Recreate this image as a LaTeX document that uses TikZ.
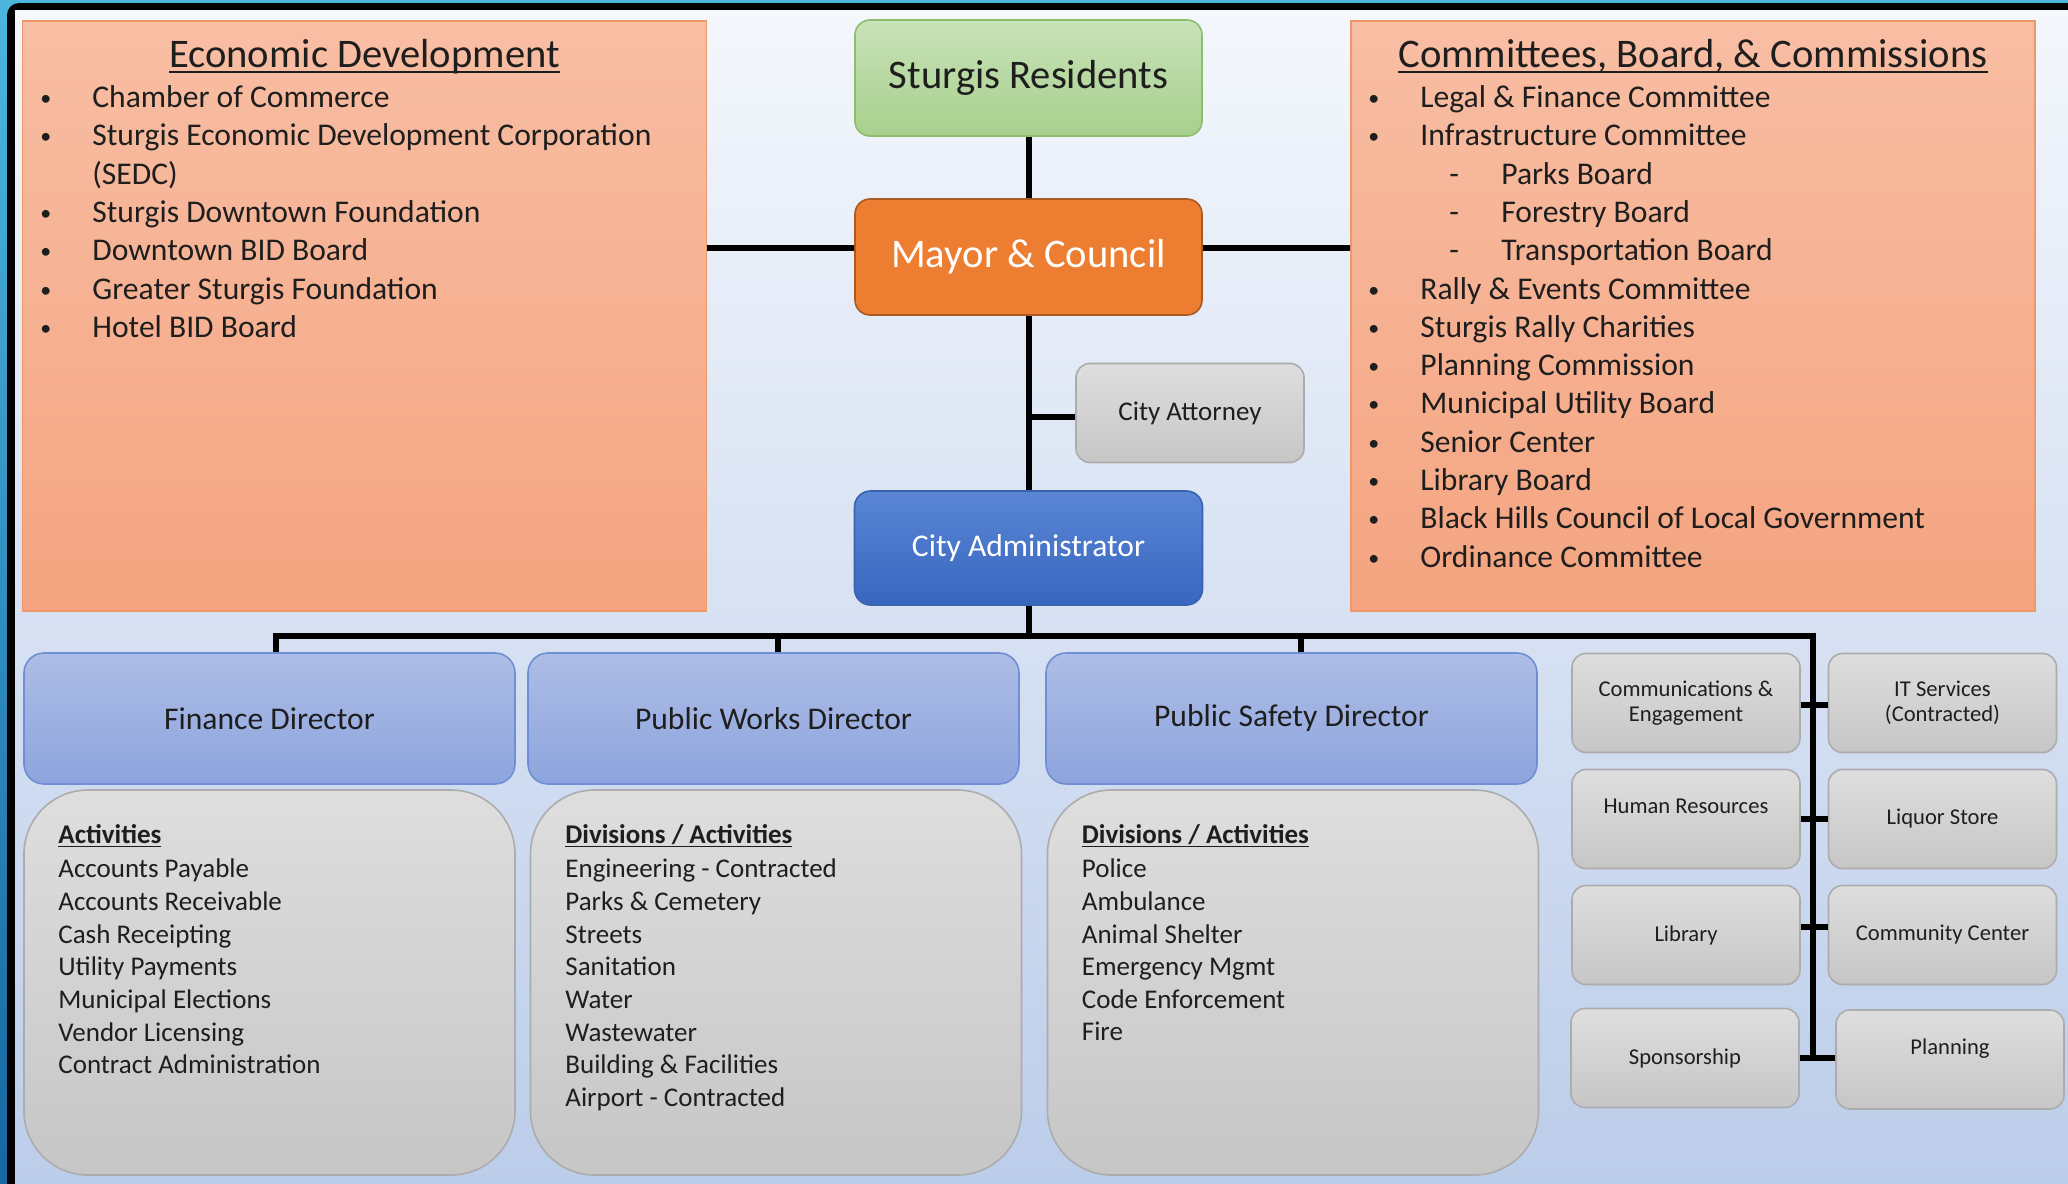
\documentclass[tikz,border=0pt]{standalone}
\usepackage{fontspec}
\setmainfont{Carlito}

\newlength{\ulwd}
\newcommand{\undl}[1]{\settowidth{\ulwd}{#1}\rlap{\rule[-0.15em]{\ulwd}{0.05em}}#1}
\newcommand{\bul}{\makebox[26pt][l]{\raisebox{1pt}{\fontsize{11}{11}\selectfont •}}}

\definecolor{framecyan}{HTML}{4CB6DE}
\definecolor{frameblue}{HTML}{1767A0}
\definecolor{bgtop}{HTML}{F4F7FC}
\definecolor{bgmid}{HTML}{C9D7EE}
\definecolor{bgbot}{HTML}{BCCDEA}
\definecolor{salmontop}{HTML}{F8BEA4}
\definecolor{salmonbot}{HTML}{F4A480}
\definecolor{salmonline}{HTML}{EE9868}
\definecolor{greentop}{HTML}{C8E2B8}
\definecolor{greenbot}{HTML}{A8D08D}
\definecolor{greenline}{HTML}{8DBE6E}
\definecolor{mayorfill}{HTML}{ED7D31}
\definecolor{mayorline}{HTML}{A85A22}
\definecolor{graytop}{HTML}{DEDEDE}
\definecolor{graybot}{HTML}{C6C6C6}
\definecolor{grayline}{HTML}{ACACAC}
\definecolor{admintop}{HTML}{5A86D5}
\definecolor{adminbot}{HTML}{3766BF}
\definecolor{adminline}{HTML}{3A63AE}
\definecolor{dirtop}{HTML}{ADBDE6}
\definecolor{dirbot}{HTML}{8DA4DD}
\definecolor{dirline}{HTML}{6F8ED3}
\definecolor{txt}{HTML}{1E1E1E}

\begin{document}
\begin{tikzpicture}[x=0.5pt, y=-0.5pt,
  basebox/.style={inner sep=0pt, align=center, line width=0.8pt, text=txt},
  panel/.style={basebox, draw=salmonline, top color=salmontop, bottom color=salmonbot, minimum width=342pt, minimum height=295pt},
  greybox/.style={basebox, draw=grayline, top color=graytop, bottom color=graybot, rounded corners=7pt, minimum width=114pt, minimum height=49.5pt, font=\fontsize{11.3}{12.5}\selectfont},
  dirbox/.style={basebox, draw=dirline, top color=dirtop, bottom color=dirbot, rounded corners=10pt, minimum width=245.5pt, minimum height=65.5pt, font=\fontsize{15.8}{19}\selectfont},
  actbox/.style={basebox, draw=grayline, top color=graytop, bottom color=graybot, rounded corners=32pt, minimum width=245.5pt, minimum height=192.5pt},
  acttext/.style={anchor=north west, inner sep=0pt, align=left, text=txt, font=\fontsize{13.5}{16.3}\selectfont},
  paneltitle/.style={anchor=base, inner sep=0pt, text=txt, font=\fontsize{20.3}{24}\selectfont},
  listtext/.style={anchor=base west, inner sep=0pt, text=txt, font=\fontsize{15.8}{19}\selectfont},
  conn/.style={line width=3pt, black}]

\useasboundingbox (0,0) rectangle (2068,1184);

\clip (0,0) rectangle (2068,1184);

\shade[top color=framecyan, bottom color=frameblue] (0,0) rectangle (2068,1184);

\fill[black, rounded corners=6pt] (7,3) rectangle (2300,1400);

\shade[top color=bgtop, middle color=bgmid, bottom color=bgbot] (15,10) rectangle (2068,1184);

\node[panel] (ed) at (364.5,316) {};

\node[panel] (cbc) at (1693,316) {};

\node[basebox, draw=greenline, top color=greentop, bottom color=greenbot, rounded corners=7.5pt, minimum width=173.5pt, minimum height=58pt, font=\fontsize{20.3}{24}\selectfont] (res) at (1028.5,78) {Sturgis Residents};

\node[basebox, draw=mayorline, fill=mayorfill, rounded corners=7.5pt, minimum width=173.5pt, minimum height=58pt, text=white, font=\fontsize{20.3}{24}\selectfont] (mayor) at (1028.5,257) {Mayor \& Council};

\node[greybox, font=\fontsize{13.5}{16}\selectfont] (attorney) at (1190,413) {City Attorney};

\node[basebox, draw=adminline, top color=admintop, bottom color=adminbot, rounded corners=8pt, minimum width=174pt, minimum height=57pt, text=white, font=\fontsize{15.8}{19}\selectfont] (admin) at (1028.5,548) {City Administrator};

\node[dirbox] (fin) at (269.5,718.5) {Finance Director};

\node[dirbox] (pw) at (773.5,718.5) {Public Works Director};

\node[dirbox] (ps) at (1291.5,718.5) {Public Safety Director};

\node[actbox] (finact) at (269.5,982.5) {};

\node[actbox] (pwact) at (776,982.5) {};

\node[actbox] (psact) at (1293,982.5) {};

\node[greybox] (comm) at (1686,703) {Communications \&\\Engagement};

\node[greybox] (it) at (1942.5,703) {IT Services\\(Contracted)};

\node[greybox] (hr) at (1686,819) {Human Resources\\\mbox{}};

\node[greybox] (liquor) at (1942.5,819) {Liquor Store};

\node[greybox] (lib) at (1686,935) {Library};

\node[greybox] (cc) at (1942.5,935) {Community Center};

\node[greybox] (spons) at (1685,1058) {Sponsorship};

\node[greybox] (plan) at (1950,1059.5) {Planning\\\mbox{}};

\node[paneltitle] (ed-title) at (364.5,67) {\undl{Economic Development}};

\node[listtext] (ed-1) at (40,107.5) {\bul Chamber of Commerce};

\node[listtext] (ed-2) at (40,145.8) {\bul Sturgis Economic Development Corporation};

\node[listtext] (ed-3) at (92,184.1) {(SEDC)};

\node[listtext] (ed-4) at (40,222.4) {\bul Sturgis Downtown Foundation};

\node[listtext] (ed-5) at (40,260.7) {\bul Downtown BID Board};

\node[listtext] (ed-6) at (40,299) {\bul Greater Sturgis Foundation};

\node[listtext] (ed-7) at (40,337.3) {\bul Hotel BID Board};

\node[paneltitle] (cbc-title) at (1693,67) {\undl{Committees, Board, \& Commissions}};

\node[listtext] (cbc-1) at (1368,107.5) {\bul Legal \& Finance Committee};

\node[listtext] (cbc-2) at (1368,145.8) {\bul Infrastructure Committee};

\node[listtext] (cbc-3) at (1449,184.1) {\makebox[26pt][l]{-}Parks Board};

\node[listtext] (cbc-4) at (1449,222.4) {\makebox[26pt][l]{-}Forestry Board};

\node[listtext] (cbc-5) at (1449,260.7) {\makebox[26pt][l]{-}Transportation Board};

\node[listtext] (cbc-6) at (1368,299) {\bul Rally \& Events Committee};

\node[listtext] (cbc-7) at (1368,337.3) {\bul Sturgis Rally Charities};

\node[listtext] (cbc-8) at (1368,375.6) {\bul Planning Commission};

\node[listtext] (cbc-9) at (1368,413.9) {\bul Municipal Utility Board};

\node[listtext] (cbc-10) at (1368,452.2) {\bul Senior Center};

\node[listtext] (cbc-11) at (1368,490.5) {\bul Library Board};

\node[listtext] (cbc-12) at (1368,528.8) {\bul Black Hills Council of Local Government};

\node[listtext] (cbc-13) at (1368,567.1) {\bul Ordinance Committee};

\node[acttext] (fin-list) at (58,824) {\textbf{\undl{Activities}}\\[1pt]Accounts Payable\\Accounts Receivable\\Cash Receipting\\Utility Payments\\Municipal Elections\\Vendor Licensing\\Contract Administration};

\node[acttext] (pw-list) at (565,824) {\textbf{\undl{Divisions / Activities}}\\[1pt]Engineering - Contracted\\Parks \& Cemetery\\Streets\\Sanitation\\Water\\Wastewater\\Building \& Facilities\\Airport - Contracted};

\node[acttext] (ps-list) at (1081.5,824) {\textbf{\undl{Divisions / Activities}}\\[1pt]Police\\Ambulance\\Animal Shelter\\Emergency Mgmt\\Code Enforcement\\Fire};

\coordinate (bus-l) at (276,635.5);

\coordinate (bus-pw) at (778,635.5);

\coordinate (bus-ps) at (1301,635.5);

\coordinate (bus-r) at (1812.5,635.5);

\coordinate (bus-end) at (1812.5,1057);

\draw[conn] (res.south) -- (mayor.north);

\draw[conn] (mayor.south) -- (admin.north);

\draw[conn] ([yshift=4.5pt]mayor.west) -- ([yshift=4.5pt]mayor.west -| ed.east);

\draw[conn] ([yshift=4.5pt]mayor.east) -- ([yshift=4.5pt]mayor.east -| cbc.west);

\draw[conn] ([yshift=-2pt]attorney.west) -- ([yshift=-2pt]attorney.west -| mayor.south);

\draw[conn] (admin.south) -- (admin.south |- bus-l);

\draw[conn] (bus-l |- fin.north) -- (bus-l) -- (bus-r) -- (bus-end);

\draw[conn] (bus-pw) -- (bus-pw |- pw.north);

\draw[conn] (bus-ps) -- (bus-ps |- ps.north);

\draw[conn] ([yshift=-1pt]comm.east) -- ([yshift=-1pt]it.west);

\draw[conn] (hr.east) -- (liquor.west);

\draw[conn] ([yshift=4pt]lib.east) -- ([yshift=4pt]cc.west);

\draw[conn] (spons.east) -- (spons.east -| plan.west);

\end{tikzpicture}
\end{document}
